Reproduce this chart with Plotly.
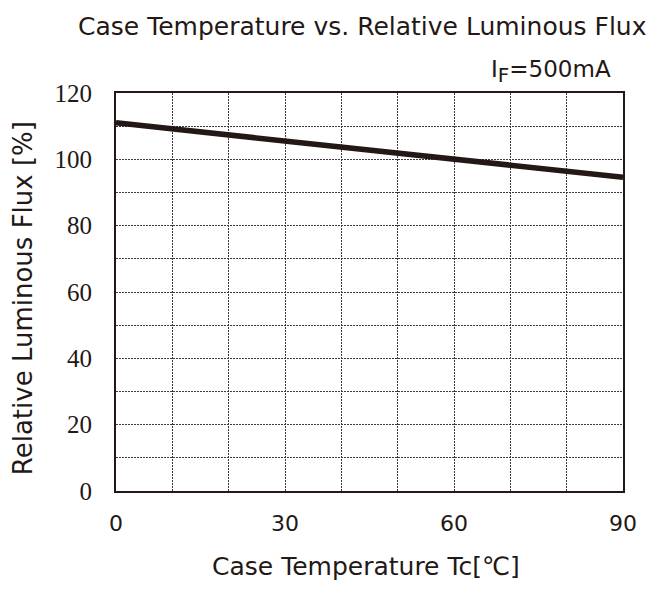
import plotly.graph_objects as go

temp_c = [0, 30, 60, 90]
rel_flux = [111.0, 105.6, 100.0, 94.6]
x_ticks = [0, 30, 60, 90]
y_ticks = [0, 20, 40, 60, 80, 100, 120]

ink = "#231815"
gridc = "#3a3a3a"
sans = "DejaVu Sans"
serif = "Liberation Serif"

fig = go.Figure()
fig.add_trace(go.Scatter(x=temp_c, y=rel_flux, mode="lines",
                         line=dict(color=ink, width=5.5), showlegend=False))

common = dict(ticks="", showline=True, linecolor=ink, linewidth=2, mirror=True,
              zeroline=False, showgrid=True, gridcolor=gridc, gridwidth=1,
              griddash="2px,1px")

fig.update_layout(
    width=656, height=593,
    margin=dict(l=108, r=41, t=85, b=110),
    paper_bgcolor="white", plot_bgcolor="white",
    xaxis=dict(range=[0, 90], tickvals=x_ticks, ticklabelstandoff=12,
               tickfont=dict(family=sans, size=22, color=ink),
               minor=dict(dtick=10, tick0=0, showgrid=True, gridcolor=gridc,
                          gridwidth=1, griddash="2px,1px"),
               **common),
    yaxis=dict(range=[0, 120], tickvals=y_ticks, ticklabelstandoff=17,
               tickfont=dict(family=serif, size=25, color=ink),
               minor=dict(dtick=10, tick0=0, showgrid=True, gridcolor=gridc,
                          gridwidth=1, griddash="2px,1px"),
               **common),
    annotations=[
        dict(text="Case Temperature vs. Relative Luminous Flux", xref="paper", yref="paper",
             x=0.485, y=1.168, xanchor="center", yanchor="middle", showarrow=False,
             font=dict(family=sans, size=25, color=ink)),
        dict(text="I<sub><span style='font-size:20px'>F</span></sub>=500mA",
             xref="paper", yref="paper",
             x=0.980, y=1.055, xanchor="right", yanchor="middle", showarrow=False,
             font=dict(family=sans, size=23, color=ink)),
        dict(text="Case Temperature Tc[℃]", xref="paper", yref="paper",
             x=0.493, y=-0.19, xanchor="center", yanchor="middle", showarrow=False,
             font=dict(family=sans, size=25, color=ink)),
        dict(text="Relative Luminous Flux [%]", xref="paper", yref="paper",
             x=-0.183, y=0.485, xanchor="center", yanchor="middle", showarrow=False,
             textangle=-90, font=dict(family=sans, size=26, color=ink)),
    ],
)

fig.write_html("out.html")
